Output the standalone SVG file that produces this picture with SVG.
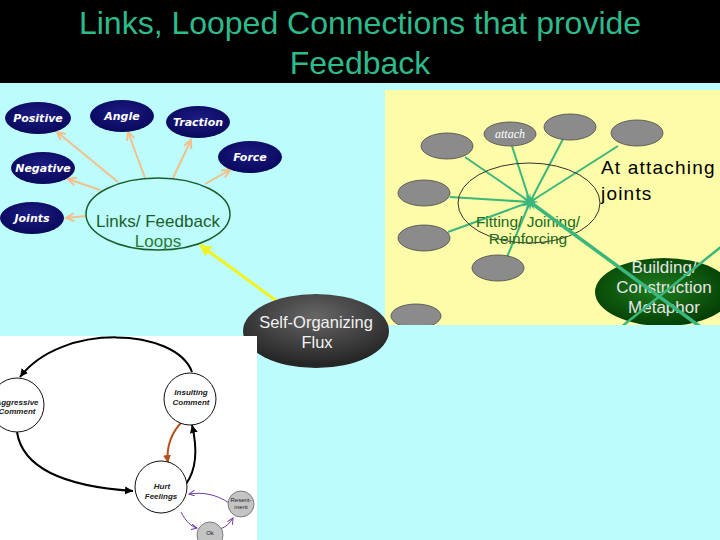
<svg xmlns="http://www.w3.org/2000/svg" width="720" height="540" viewBox="0 0 720 540">
<defs>
<radialGradient id="gNavy" cx="50%" cy="40%" r="60%"><stop offset="0" stop-color="#1c1c84"/><stop offset="1" stop-color="#08085c"/></radialGradient>
<radialGradient id="gFlux" cx="50%" cy="30%" r="65%"><stop offset="0" stop-color="#666"/><stop offset="1" stop-color="#262626"/></radialGradient>
<radialGradient id="gBuild" cx="45%" cy="45%" r="60%"><stop offset="0" stop-color="#1f7d1f"/><stop offset="1" stop-color="#013a01"/></radialGradient>
<clipPath id="clipY"><rect x="385" y="90" width="335" height="235"/></clipPath>
<marker id="mPeach" markerUnits="userSpaceOnUse" markerWidth="12" markerHeight="12" refX="9" refY="5" orient="auto"><path d="M1,1 L9,5 L1,9" fill="none" stroke="#f3bf8c" stroke-width="2"/></marker>
<marker id="mYellow" markerUnits="userSpaceOnUse" markerWidth="14" markerHeight="14" refX="11" refY="6" orient="auto"><path d="M0,0 L12,6 L0,12 Z" fill="#f2f21e"/></marker>
<marker id="mBlack" markerUnits="userSpaceOnUse" markerWidth="10" markerHeight="10" refX="8" refY="4" orient="auto"><path d="M0,0 L8,4 L0,8 Z" fill="#000"/></marker>
<marker id="mOrange" markerUnits="userSpaceOnUse" markerWidth="10" markerHeight="10" refX="8" refY="4" orient="auto"><path d="M0,0 L8,4 L0,8 Z" fill="#b5521c"/></marker>
<marker id="mPurple" markerUnits="userSpaceOnUse" markerWidth="8" markerHeight="8" refX="6" refY="3" orient="auto"><path d="M0,0 L6,3 L0,6" fill="none" stroke="#6d3fa3" stroke-width="1"/></marker>
</defs>
<style>
.title{font-family:"Liberation Sans",Arial,sans-serif;font-size:32px;fill:#2cbb8b;text-anchor:middle}
.navy{fill:url(#gNavy)}
.nt{font-family:"DejaVu Sans",sans-serif;font-weight:bold;font-style:oblique;font-size:11px;fill:#fff;text-anchor:middle}
.peach{stroke:#f3bf8c;stroke-width:2;fill:none;marker-end:url(#mPeach)}
.gray{fill:#8b8b8b;stroke:#4a4a4a;stroke-width:0.8}
.spoke{stroke:#3bb67d;stroke-width:2;fill:none}
.sans{font-family:"Liberation Sans",Arial,sans-serif}
.circ{fill:#fff;stroke:#111;stroke-width:1}
.ct{font-family:"Liberation Sans",Arial,sans-serif;font-style:italic;font-weight:bold;font-size:8px;fill:#222;text-anchor:middle}
.blk{stroke:#000;stroke-width:2;fill:none;marker-end:url(#mBlack)}
.pur{stroke:#6d3fa3;stroke-width:1;fill:none;marker-end:url(#mPurple)}
</style>
<rect width="720" height="540" fill="#bcfcfc"/>
<rect width="720" height="83" fill="#000"/>
<g id="title">
<text class="title" x="360" y="34">Links, Looped Connections that provide</text>
<text class="title" x="360" y="74">Feedback</text>
</g>
<rect id="yellow-panel" x="385" y="90" width="335" height="235" fill="#fdfca8"/>

<g id="connectors">
<line class="peach" x1="118" y1="182" x2="57" y2="132"/>
<line class="peach" x1="145" y1="178" x2="128" y2="132"/>
<line class="peach" x1="173" y1="178" x2="191" y2="140"/>
<line class="peach" x1="205" y1="184" x2="230" y2="170"/>
<line class="peach" x1="100" y1="190" x2="68" y2="179"/>
<line class="peach" x1="86" y1="216" x2="66" y2="218"/>
<line x1="278" y1="302" x2="200" y2="245" stroke="#f2f21e" stroke-width="3" marker-end="url(#mYellow)"/>
<g clip-path="url(#clipY)">
<line class="spoke" x1="530" y1="202" x2="512" y2="146"/>
<line class="spoke" x1="530" y1="202" x2="563" y2="139"/>
<line class="spoke" x1="530" y1="202" x2="618" y2="146"/>
<line class="spoke" x1="530" y1="202" x2="465" y2="157"/>
<line class="spoke" x1="530" y1="202" x2="450" y2="197"/>
<line class="spoke" x1="530" y1="202" x2="448" y2="232"/>
<line class="spoke" x1="530" y1="202" x2="507" y2="257"/>
</g>
</g>

<g id="links-feedback">
<ellipse cx="158" cy="214" rx="72" ry="36" fill="none" stroke="#1b5e2c" stroke-width="1.5"/>
<text class="sans" x="158" y="227" font-size="17" fill="#1b5e2c" text-anchor="middle">Links/ Feedback</text>
<text class="sans" x="158" y="247" font-size="17" fill="#2a7a38" text-anchor="middle">Loops</text>
</g>
<g id="positive"><ellipse class="navy" cx="38" cy="118" rx="33" ry="16"/><text class="nt" x="38" y="122">Positive</text></g>
<g id="angle"><ellipse class="navy" cx="122" cy="116" rx="32" ry="16"/><text class="nt" x="122" y="120">Angle</text></g>
<g id="traction"><ellipse class="navy" cx="198" cy="122" rx="32" ry="16"/><text class="nt" x="198" y="126">Traction</text></g>
<g id="force"><ellipse class="navy" cx="250" cy="157" rx="32" ry="16"/><text class="nt" x="250" y="161">Force</text></g>
<g id="negative"><ellipse class="navy" cx="43" cy="168" rx="32" ry="16"/><text class="nt" x="43" y="172">Negative</text></g>
<g id="joints"><ellipse class="navy" cx="32" cy="218" rx="32" ry="16"/><text class="nt" x="32" y="222">Joints</text></g>

<g id="fitting-cluster" clip-path="url(#clipY)">
<ellipse class="gray" cx="510" cy="134" rx="26" ry="12"/>
<text x="510" y="138" font-family="Liberation Serif,serif" font-style="italic" font-size="12" fill="#fff" text-anchor="middle">attach</text>
<ellipse class="gray" cx="570" cy="127" rx="26" ry="13"/>
<ellipse class="gray" cx="637" cy="133" rx="26" ry="13"/>
<ellipse class="gray" cx="447" cy="146" rx="26" ry="13"/>
<ellipse class="gray" cx="424" cy="193" rx="26" ry="13"/>
<ellipse class="gray" cx="424" cy="238" rx="26" ry="13"/>
<ellipse class="gray" cx="498" cy="268" rx="26" ry="13"/>
<ellipse class="gray" cx="416" cy="316" rx="25" ry="12"/>
<ellipse cx="529" cy="203" rx="71" ry="40" fill="none" stroke="#333" stroke-width="1"/>
<polygon fill="#3bb67d" points="539,202 533.9,203.0 537.8,206.5 532.9,205.2 534.5,209.8 531.0,206.0 530,211 529.0,206.0 525.5,209.8 527.1,205.2 522.2,206.5 526.1,203.0 521,202 526.1,201.0 522.2,197.5 527.1,198.8 525.5,194.2 529.0,198.0 530,193 531.0,198.0 534.5,194.2 532.9,198.8 537.8,197.5 533.9,201.0"/>
<text class="sans" x="528" y="227" font-size="15.5" fill="#246b24" text-anchor="middle">Fitting/ Joining/</text>
<text class="sans" x="528" y="244" font-size="15.5" fill="#246b24" text-anchor="middle">Reinforcing</text>
</g>
<g id="at-attaching">
<text class="sans" x="601" y="174" font-size="19" fill="#000" letter-spacing="1.2">At attaching</text>
<text class="sans" x="601" y="200" font-size="19" fill="#000" letter-spacing="1.2">joints</text>
</g>
<g id="building" clip-path="url(#clipY)">
<ellipse cx="664" cy="292" rx="69" ry="34" fill="url(#gBuild)"/>
<text class="sans" x="664" y="273" font-size="17" fill="#e6e6e6" text-anchor="middle">Building/</text>
<text class="sans" x="664" y="293" font-size="17" fill="#e6e6e6" text-anchor="middle">Construction</text>
<text class="sans" x="664" y="313" font-size="17" fill="#e6e6e6" text-anchor="middle">Metaphor</text>
<line x1="530" y1="202" x2="702" y2="328" stroke="#3bb67d" stroke-width="3.5"/>
<line x1="620" y1="328" x2="722" y2="246" stroke="#3bb67d" stroke-width="2.5"/>
</g>

<g id="self-organizing-flux">
<ellipse cx="316" cy="331" rx="73" ry="37" fill="url(#gFlux)"/>
<text class="sans" x="316" y="328" font-size="16.5" fill="#f2f2f2" text-anchor="middle">Self-Organizing</text>
<text class="sans" x="317" y="348" font-size="16.5" fill="#f2f2f2" text-anchor="middle">Flux</text>
</g>

<rect id="loop-panel" x="0" y="336" width="257" height="204" fill="#fff"/>
<g id="loop-connectors">
<path class="blk" d="M192,372 C176,328 62,322 20,377"/>
<path class="blk" d="M17,432 C24,478 88,488 133,491"/>
<path class="blk" d="M186,484 C199,466 196,442 192,425"/>
<path d="M183,421 C171,432 166,448 168,463" stroke="#b5521c" stroke-width="2" fill="none" marker-end="url(#mOrange)"/>
<path class="pur" d="M229,503 C216,494 202,492 189,494"/>
<path class="pur" d="M181,512 C186,522 192,527 197,528"/>
<path class="pur" d="M220,529 C226,527 230,523 233,518"/>
</g>
<g id="aggressive"><circle class="circ" cx="17" cy="405" r="27"/><text class="ct" x="17" y="405">Aggressive</text><text class="ct" x="17" y="414">Comment</text></g>
<g id="insulting"><circle class="circ" cx="190" cy="399" r="26"/><text class="ct" x="191" y="395">Insulting</text><text class="ct" x="191" y="405">Comment</text></g>
<g id="hurt"><circle class="circ" cx="161" cy="487" r="26"/><text class="ct" x="162" y="489">Hurt</text><text class="ct" x="161" y="499">Feelings</text></g>
<g id="resentment"><circle cx="241" cy="504" r="13" fill="#c4c4c4" stroke="#666" stroke-width="0.8"/><text x="241" y="502" font-family="Liberation Sans,sans-serif" font-size="6" fill="#222" text-anchor="middle">Resent-</text><text x="241" y="509" font-family="Liberation Sans,sans-serif" font-size="6" fill="#222" text-anchor="middle">ment</text></g>
<g id="ok"><circle cx="210" cy="535" r="13" fill="#c4c4c4" stroke="#666" stroke-width="0.8"/><text x="210" y="535" font-family="Liberation Sans,sans-serif" font-size="6" fill="#222" text-anchor="middle">Ok</text></g>
</svg>
